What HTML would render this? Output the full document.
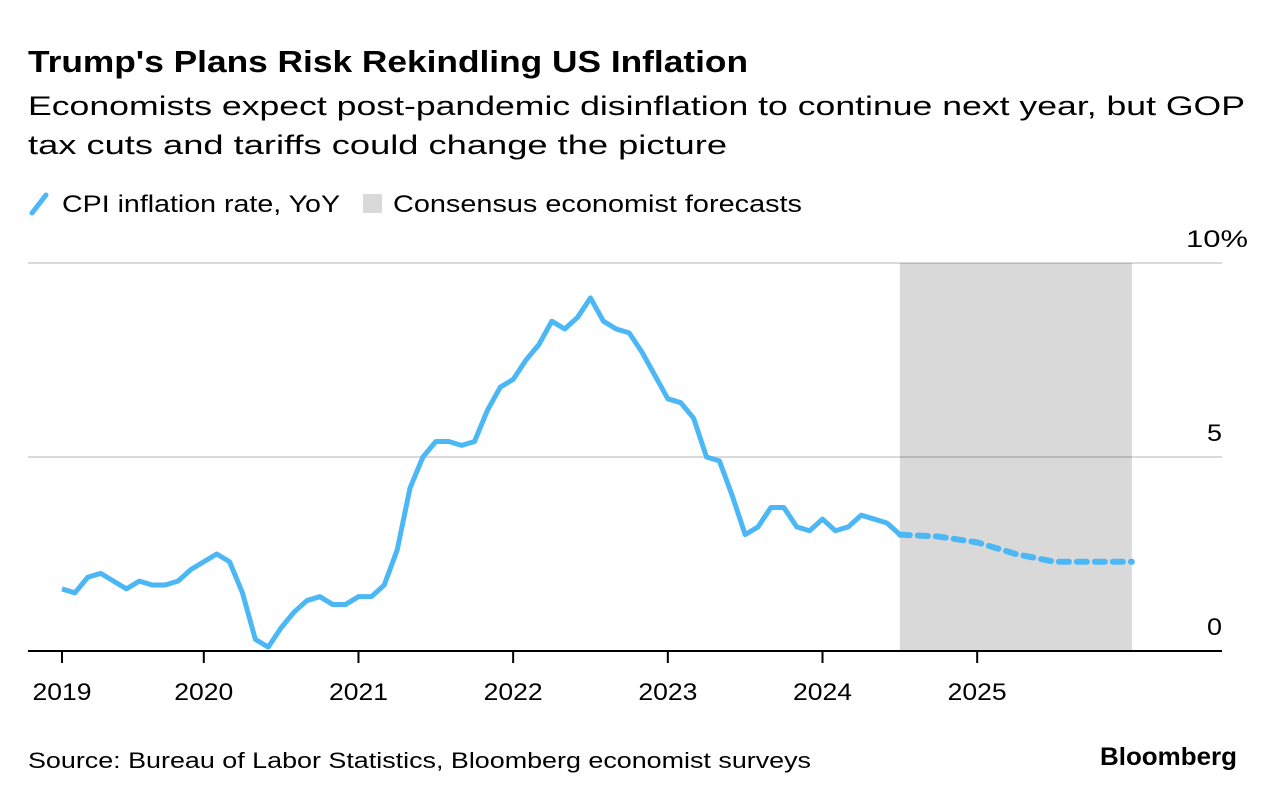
<!DOCTYPE html>
<html><head><meta charset="utf-8"><style>
body{margin:0;background:#fff;font-family:"Liberation Sans",sans-serif;color:#000;}
#wrap{position:relative;width:1276px;height:800px;overflow:hidden;}
</style></head><body>
<div id="wrap">
<svg width="1276" height="800" style="position:absolute;left:0;top:0" font-family="Liberation Sans, sans-serif">
<text x="28" y="72" font-size="31" font-weight="bold" textLength="720" lengthAdjust="spacingAndGlyphs">Trump's Plans Risk Rekindling US Inflation</text>
<text x="28" y="115" font-size="27" textLength="1217" lengthAdjust="spacingAndGlyphs">Economists expect post-pandemic disinflation to continue next year, but GOP</text>
<text x="28" y="154" font-size="27" textLength="699" lengthAdjust="spacingAndGlyphs">tax cuts and tariffs could change the picture</text>
<g>
<line x1="32" y1="213" x2="46" y2="195" stroke="#4bb7f5" stroke-width="5" stroke-linecap="round"/>
<text x="62" y="212" font-size="24" textLength="278" lengthAdjust="spacingAndGlyphs">CPI inflation rate, YoY</text>
<rect x="363" y="194" width="19" height="19" fill="#d9d9d9"/>
<text x="393" y="212" font-size="24" textLength="409" lengthAdjust="spacingAndGlyphs">Consensus economist forecasts</text>
</g>
<g id="plot"></g>
<text x="28" y="768" font-size="22" textLength="783" lengthAdjust="spacingAndGlyphs">Source: Bureau of Labor Statistics, Bloomberg economist surveys</text>
<text x="1100" y="765" font-size="25" font-weight="bold" textLength="137" lengthAdjust="spacingAndGlyphs">Bloomberg</text>
</svg>
</div>
<script>
const actualValues=[1.6,1.5,1.9,2.0,1.8,1.6,1.8,1.7,1.7,1.8,2.1,2.3,2.5,2.3,1.5,0.3,0.1,0.6,1.0,1.3,1.4,1.2,1.2,1.4,1.4,1.7,2.6,4.2,5.0,5.4,5.4,5.3,5.4,6.2,6.8,7.0,7.5,7.9,8.5,8.3,8.6,9.1,8.5,8.3,8.2,7.7,7.1,6.5,6.4,6.0,5.0,4.9,4.0,3.0,3.2,3.7,3.7,3.2,3.1,3.4,3.1,3.2,3.5,3.4,3.3,3.0];
const forecastIdx=[65,68,71,74,77,80,83];
const forecastValues=[3.0,2.95,2.8,2.5,2.3,2.3,2.3];
const yTicks=[0,5,10];
const yTickLabels=["0","5","10%"];
const xYears=[2019,2020,2021,2022,2023,2024,2025];
const shadeStartIdx=65, shadeEndIdx=83;
const NS="http://www.w3.org/2000/svg";
const g=document.getElementById('plot');
const x=i=>62+i*12.89;
const y=v=>651-v*38.8;
function mk(t,a){const e=document.createElementNS(NS,t);for(const k in a)e.setAttribute(k,a[k]);g.appendChild(e);return e;}
let r=mk('rect',{x:x(shadeStartIdx),y:y(10),width:x(shadeEndIdx)-x(shadeStartIdx),height:y(0)-y(10),fill:'#d9d9d9'});


yTicks.forEach((v,i)=>{
 if(v>0){const l=mk('line',{x1:28,x2:1222,y1:y(v),y2:y(v),stroke:'#000','stroke-opacity':0.15,'stroke-width':2});
 
 }
 const lab=yTickLabels[i];
 const t=mk('text',{x:lab.length>1?1186:1207,y:y(v)-16,'font-size':24,textLength:lab.length>1?62:15,lengthAdjust:'spacingAndGlyphs'});t.textContent=lab;
 
 
});
const ax=mk('line',{x1:28,x2:1222,y1:651,y2:651,stroke:'#000','stroke-width':2});


xYears.forEach(yr=>{
 const idx=Math.max(0,12*(yr-2019)-1);
 const tk=mk('line',{x1:x(idx),x2:x(idx),y1:651,y2:663,stroke:'#000','stroke-width':2});
 
 
 const t=mk('text',{x:x(idx)-29.5,y:700,'font-size':24,textLength:59,lengthAdjust:'spacingAndGlyphs'});t.textContent=yr;
 
 
});
const p=mk('polyline',{points:actualValues.map((v,i)=>x(i)+','+y(v)).join(' '),fill:'none',stroke:'#4bb7f5','stroke-width':5,'stroke-linejoin':'round'});


const f=mk('polyline',{points:forecastValues.map((v,i)=>x(forecastIdx[i])+','+y(v)).join(' '),fill:'none',stroke:'#4bb7f5','stroke-width':6,'stroke-dasharray':'10 8','stroke-linecap':'round','stroke-linejoin':'round'});


</script>
</body></html>
